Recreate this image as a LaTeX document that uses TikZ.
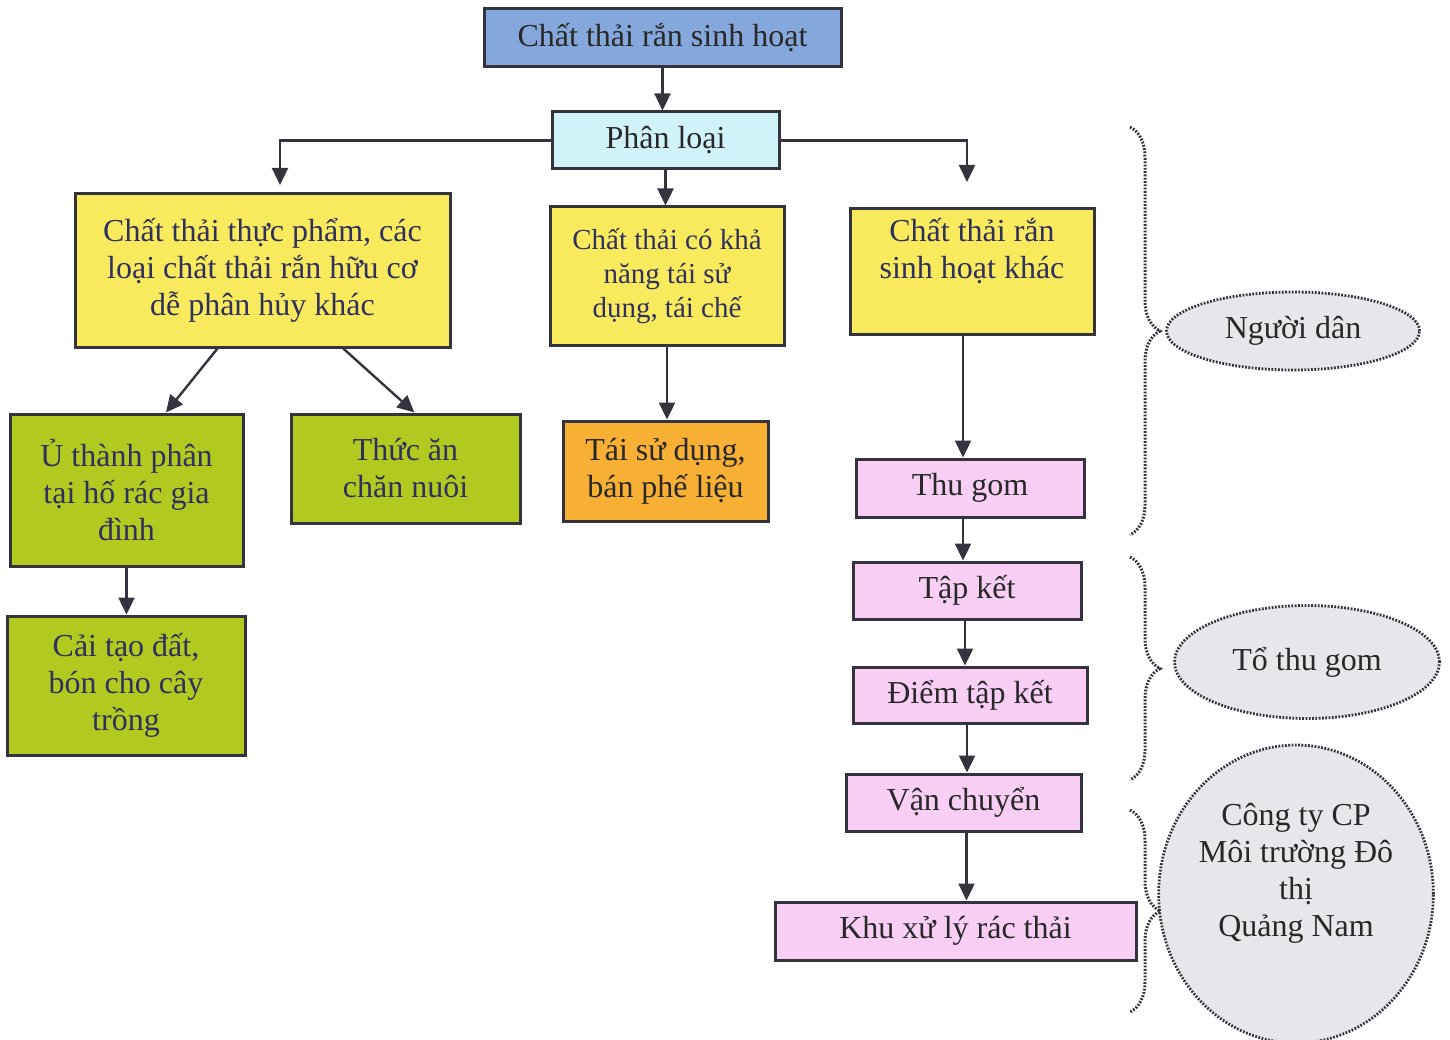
\documentclass[tikz,border=0pt]{standalone}
\usepackage{fontspec}
\setmainfont{Liberation Serif}
\usetikzlibrary{positioning,calc,arrows.meta,shapes.geometric,decorations.pathreplacing}
\definecolor{boxblue}{RGB}{132,167,220}
\definecolor{boxcyan}{RGB}{207,243,249}
\definecolor{boxyellow}{RGB}{248,234,92}
\definecolor{boxgreen}{RGB}{178,201,32}
\definecolor{boxorange}{RGB}{248,176,52}
\definecolor{boxpink}{RGB}{248,206,245}
\definecolor{ovalgray}{RGB}{231,231,235}
\definecolor{edgegray}{RGB}{52,52,62}
\definecolor{textgray}{RGB}{40,40,40}
\definecolor{textnavy}{RGB}{48,48,92}
\tikzset{
    every node/.style={font=\fontsize{32}{37}\selectfont},
    rectblue/.style={draw=edgegray, fill=boxblue, line width=3pt, align=center, text=textgray},
    rectcyan/.style={draw=edgegray, fill=boxcyan, line width=3pt, align=center, text=textgray},
    yellowbox/.style={draw=edgegray, fill=boxyellow, line width=3pt, align=center, text=textnavy},
    greenbox/.style={draw=edgegray, fill=boxgreen, line width=3pt, align=center, text=textnavy},
    orangebox/.style={draw=edgegray, fill=boxorange, line width=3pt, align=center, text=textgray},
    pinkbox/.style={draw=edgegray, fill=boxpink, line width=3pt, align=center, text=textgray},
    grayellipse/.style={draw=edgegray, fill=ovalgray, ellipse, inner sep=0pt, line width=2.8pt,
        dash pattern=on 1.8pt off 1.5pt, align=center, text=textgray},
    arrow/.style={-{Triangle[length=17pt,width=16pt]}, line width=2.4pt, draw=edgegray},
    dotbrace/.style={decorate, decoration={brace, amplitude=30pt}, line width=3pt,
        dash pattern=on 1.8pt off 1.5pt, draw=edgegray},
}

\begin{document}
\begin{tikzpicture}[x=1pt, y=-1pt]
\useasboundingbox (0,0) rectangle (1450,1040);

\node[rectblue, minimum width=357pt, minimum height=58pt] (waste) at (662.5,38) {Chất thải rắn sinh hoạt};
\node[rectcyan, minimum width=227pt, minimum height=57pt] (sort) at (665.5,140.5) {Phân loại};

\node[yellowbox, minimum width=375pt, minimum height=153pt] (organic) at (262.5,270.5)
  {Chất thải thực phẩm, các\\loại chất thải rắn hữu cơ\\dễ phân hủy khác};
\node[yellowbox, minimum width=234pt, minimum height=138pt, font=\fontsize{29}{34}\selectfont] (recycle) at (667,276)
  {Chất thải có khả\\năng tái sử\\dụng, tái chế};
\node[yellowbox, minimum width=244pt, minimum height=126pt] (other) at (972,272)
  {Chất thải rắn\\sinh hoạt khác\\ \strut};

\node[greenbox, minimum width=233pt, minimum height=152pt] (compost) at (126.5,490) {Ủ thành phân\\tại hố rác gia\\đình};
\node[greenbox, minimum width=229pt, minimum height=109pt] (feed) at (405.5,468.5) {Thức ăn\\chăn nuôi};
\node[greenbox, minimum width=238pt, minimum height=139pt] (soil) at (126,685.5) {Cải tạo đất,\\bón cho cây\\trồng};
\node[orangebox, minimum width=205pt, minimum height=100pt] (resell) at (665.5,471) {Tái sử dụng,\\bán phế liệu};

\node[pinkbox, minimum width=228pt, minimum height=58pt] (collect) at (970,488) {Thu gom};
\node[pinkbox, minimum width=228pt, minimum height=57pt] (gather) at (967,590.5) {Tập kết};
\node[pinkbox, minimum width=234pt, minimum height=56pt] (point) at (970,695) {Điểm tập kết};
\node[pinkbox, minimum width=235pt, minimum height=57pt] (transport) at (963.5,802.5) {Vận chuyển};
\node[pinkbox, minimum width=361pt, minimum height=58pt] (treat) at (955.5,931) {Khu xử lý rác thải};

\node[grayellipse, minimum width=253pt, minimum height=78pt] (people) at (1293,331) {Người dân};
\node[grayellipse, minimum width=265pt, minimum height=113pt] (team) at (1307,662) {Tổ thu gom};
\node[grayellipse, minimum width=272pt, minimum height=298pt] (company) at (1296,894)
  {Công ty CP\\Môi trường Đô\\thị\\Quảng Nam\\ \strut};

% turning points of the split
\coordinate (lturn) at (280,185);
\coordinate (rturn) at (967,182);

\draw[arrow] (waste.south) -- (waste.south |- sort.north);
\draw[arrow] (sort.west) -| (lturn);
\draw[arrow] (sort.east) -| (rturn);
\draw[arrow] (sort.south) -- (sort.south |- recycle.north);
\draw[arrow] (organic.240) -- (compost.63);
\draw[arrow] (organic.316) -- (feed.81);
\draw[arrow] (compost.south) -- (compost.south |- soil.north);
\draw[arrow] (recycle.south) -- (recycle.south |- resell.north);
\draw[arrow] ([xshift=-9pt]other.south) -- ([xshift=-9pt]other.south |- collect.north);
\draw[arrow] ([xshift=-7pt]collect.south) -- ([xshift=-7pt]collect.south |- gather.north);
\draw[arrow] ([xshift=-2pt]gather.south) -- ([xshift=-2pt]gather.south |- point.north);
\draw[arrow] ([xshift=-3pt]point.south) -- ([xshift=-3pt]point.south |- transport.north);
\draw[arrow] ([xshift=3pt]transport.south) -- ([xshift=3pt]transport.south |- treat.north);

% braces
\coordinate (b1top) at (1130,127);
\coordinate (b1bot) at (1130,535);
\coordinate (b2top) at (1130,557);
\coordinate (b2bot) at (1130,780);
\coordinate (b3top) at (1130,810);
\coordinate (b3bot) at (1130,1012);
\draw[dotbrace] (b1top) -- (b1bot);
\draw[dotbrace] (b2top) -- (b2bot);
\draw[dotbrace] (b3top) -- (b3bot);

\end{tikzpicture}
\end{document}
